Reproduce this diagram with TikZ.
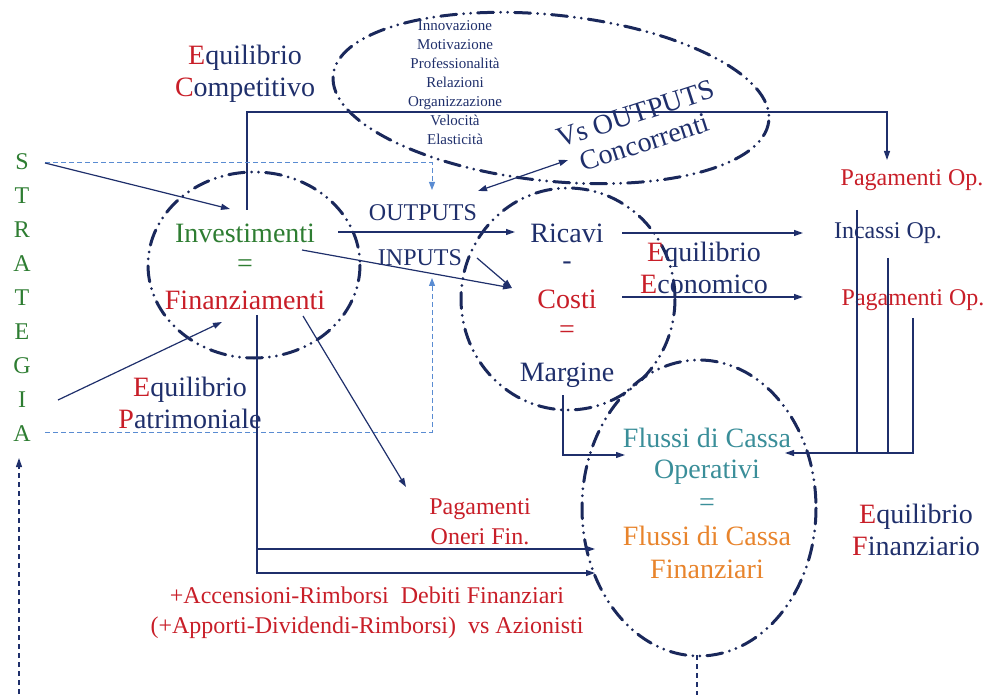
\documentclass[tikz,border=0pt]{standalone}
\usepackage{fontspec}
\setmainfont{Liberation Serif}
\usetikzlibrary{arrows.meta}
\definecolor{navy}{HTML}{1F2F6B}
\definecolor{rosso}{HTML}{C81E28}
\definecolor{verde}{HTML}{2E7D32}
\definecolor{celeste}{HTML}{5A8CD2}
\definecolor{acqua}{HTML}{3A8E99}
\definecolor{arancio}{HTML}{E8842C}
\begin{document}
\begin{tikzpicture}[x=1pt, y=-1pt, every node/.style={inner sep=0pt, text=navy},
    big/.style={font=\fontsize{28}{32}\selectfont, align=center},
    mid/.style={font=\fontsize{24}{30}\selectfont, align=center},
    small/.style={font=\fontsize{15}{19}\selectfont, align=center},
    linea/.style={draw=navy, line width=1.2pt},
    freccia/.style={linea, -{Triangle[length=9pt,width=6pt]}},
    tratto/.style={draw=celeste, line width=1pt, dash pattern=on 5pt off 3pt,
      -{Triangle[length=8pt,width=6pt]}},
    giro/.style={draw=navy!85!black, line width=3pt, line cap=round,
      dash pattern=on 16pt off 7pt on 0pt off 7pt on 0pt off 7pt}]
  \useasboundingbox (0,0) rectangle (989,695);
  \draw[giro, rotate around={-6:(551,98)}] (551,98) ellipse [x radius=219, y radius=83];
  \draw[giro] (254,265) ellipse [x radius=106, y radius=93];
  \draw[giro] (568,299) ellipse [x radius=107, y radius=111];
  \draw[giro] (699,508) ellipse [x radius=117, y radius=148];
  \node[big] (comp) at (245,74) {\color{rosso}E\color{navy}quilibrio\\
    \color{rosso}C\color{navy}ompetitivo};
  \node[mid, text=verde, font=\fontsize{24}{34}\selectfont] (strat) at (22,298)
    {S\\T\\R\\A\\T\\E\\G\\I\\A};
  \node[small] (qualita) at (455,83) {Innovazione\\Motivazione\\Professionalità\\
    Relazioni\\Organizzazione\\Velocità\\Elasticità};
  \node[big, rotate=18, font=\fontsize{28}{30}\selectfont] (vsout) at (640,128)
    {Vs OUTPUTS\\Concorrenti};
  \node[big, text=verde] (inv) at (245,233) {Investimenti};
  \node[big, text=verde] (ugu1) at (245,266) {=};
  \node[big, text=rosso] (fin) at (245,300) {Finanziamenti};
  \node[big] (patr) at (190,403) {\color{rosso}E\color{navy}quilibrio\\
    \color{rosso}P\color{navy}atrimoniale};
  \node[mid] (outputs) at (423,213) {OUTPUTS};
  \node[mid] (inputs) at (420,258) {INPUTS};
  \node[big] (ricavi) at (567,233) {Ricavi};
  \node[big] (meno) at (567,266) {-};
  \node[big, text=rosso] (costi) at (567,299) {Costi};
  \node[big, text=rosso] (ugu2) at (567,332) {=};
  \node[big] (margine) at (567,375) {Margine};
  \node[big] (econ) at (704,268) {\color{rosso}E\color{navy}quilibrio\\
    \color{rosso}E\color{navy}conomico};
  \node[mid, text=rosso] (pagop1) at (912,180) {Pagamenti Op.};
  \node[mid] (incassi) at (888,233) {Incassi Op.};
  \node[mid, text=rosso] (pagop2) at (913,300) {Pagamenti Op.};
  \node[big, text=acqua] (flop) at (707,438) {Flussi di Cassa};
  \node[big, text=acqua] (oper) at (707,472) {Operativi};
  \node[big, text=acqua] (ugu3) at (707,505) {=};
  \node[big, text=arancio] (flfin) at (707,536) {Flussi di Cassa};
  \node[big, text=arancio] (finanz) at (707,569) {Finanziari};
  \node[big] (finz) at (916,530) {\color{rosso}E\color{navy}quilibrio\\
    \color{rosso}F\color{navy}inanziario};
  \node[mid, text=rosso] (oneri) at (480,522) {Pagamenti\\Oneri Fin.};
  \node[mid, text=rosso] (accens) at (367,613) {+Accensioni-Rimborsi\ \ Debiti Finanziari\\
    (+Apporti-Dividendi-Rimborsi)\ \ vs Azionisti};
  \coordinate (comp0) at (247,210);
  \coordinate (comp1) at (887,112);
  \coordinate (comp2) at (887,160);
  \coordinate (strS) at (45,163);
  \coordinate (strA) at (45,432);
  \coordinate (str1) at (432,190);
  \coordinate (str2) at (432,278);
  \coordinate (inv0) at (230,209);
  \coordinate (patr0) at (58,400);
  \coordinate (patr1) at (222,322);
  \coordinate (out0) at (338,232);
  \coordinate (out1) at (515,232);
  \coordinate (in0) at (302,250);
  \coordinate (in1) at (477,258);
  \coordinate (in2) at (512,288);
  \coordinate (fin0) at (257,315);
  \coordinate (fin1) at (595,549);
  \coordinate (fin2) at (595,573);
  \coordinate (fin3) at (303,316);
  \coordinate (fin4) at (406,487);
  \coordinate (ric0) at (622,233);
  \coordinate (ric1) at (803,233);
  \coordinate (cos0) at (622,297);
  \coordinate (cos1) at (803,297);
  \coordinate (mar0) at (563,395);
  \coordinate (mar1) at (625,455);
  \coordinate (op1) at (857,210);
  \coordinate (op2) at (888,258);
  \coordinate (op3) at (913,318);
  \coordinate (op4) at (785,453);
  \coordinate (conc0) at (478,191);
  \coordinate (conc1) at (568,160);
  \coordinate (giu0) at (697,655);
  \coordinate (giu1) at (697,700);
  \coordinate (giu2) at (19,458);
  \draw[freccia] (comp0) |- (comp1) -- (comp2);
  \draw[tratto] (strS) -| (str1);
  \draw[tratto] (strA) -| (str2);
  \draw[freccia] (strS) -- (inv0);
  \draw[freccia] (patr0) -- (patr1);
  \draw[freccia] (out0) -- (out1);
  \draw[freccia] (in0) -- (in2);
  \draw[freccia] (in1) -- (in2);
  \draw[freccia] (fin0) |- (fin2);
  \draw[freccia] (fin0 |- fin1) -- (fin1);
  \draw[freccia] (fin3) -- (fin4);
  \draw[freccia] (ric0) -- (ric1);
  \draw[freccia] (cos0) -- (cos1);
  \draw[freccia] (mar0) |- (mar1);
  \draw[linea] (op1) -- (op1 |- op4);
  \draw[linea] (op2) -- (op2 |- op4);
  \draw[freccia] (op3) |- (op4);
  \draw[linea, {Triangle[length=9pt,width=6pt]}-{Triangle[length=9pt,width=6pt]}]
    (conc0) -- (conc1);
  \draw[linea, dash pattern=on 5pt off 4pt, -{Triangle[length=9pt,width=6pt]}]
    (giu0) -- (giu1) -| (giu2);
\end{tikzpicture}
\end{document}
